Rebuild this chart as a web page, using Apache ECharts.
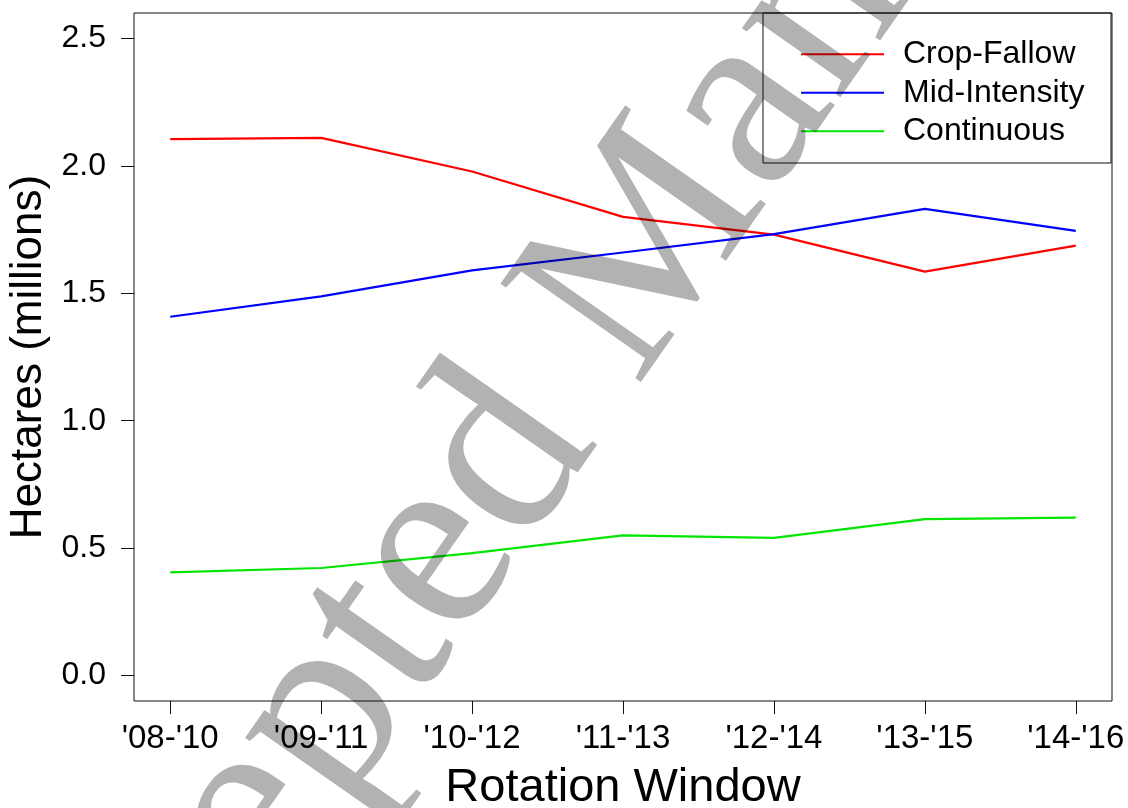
<!DOCTYPE html>
<html>
<head>
<meta charset="utf-8">
<title>Rotation Window</title>
<script src="https://cdn.jsdelivr.net/npm/echarts@6/dist/echarts.min.js"></script>
<style>
  html, body { margin: 0; padding: 0; background: #fff; }
  #main { width: 1128px; height: 808px; }
</style>
</head>
<body>
<div id="main"></div>
<script type="text/javascript">
// data
var windows = ["'08-'10", "'09-'11", "'10-'12", "'11-'13", "'12-'14", "'13-'15", "'14-'16"];
var cropFallow = [2.105, 2.11, 1.978, 1.80, 1.73, 1.585, 1.687];
var midIntensity = [1.408, 1.488, 1.59, 1.66, 1.732, 1.831, 1.745];
var continuous = [0.405, 0.422, 0.48, 0.55, 0.54, 0.614, 0.62];
var yTicks = [0, 0.5, 1, 1.5, 2, 2.5];
var xTicks = [1, 2, 3, 4, 5, 6, 7];

function pairs(vals) {
    return vals.map(function (v, i) { return [i + 1, v]; });
}

var font = '"Liberation Sans", Arial, sans-serif';
var myChart = echarts.init(document.getElementById('main'), null, { renderer: 'canvas' });

var option = {
    backgroundColor: '#fff',
    animation: false,
    grid: {
        left: 134, right: 16, top: 13, bottom: 107,
        outerBoundsMode: 'none',
        containLabel: false,
        show: true, borderColor: '#111', borderWidth: 1
    },
    legend: {
        orient: 'vertical',
        left: 801, top: 35,
        padding: 0,
        icon: 'rect',
        itemWidth: 83, itemHeight: 2.2, itemGap: 0,
        data: ['Crop-Fallow', 'Mid-Intensity', 'Continuous'],
        textStyle: { fontFamily: font, fontSize: 32, lineHeight: 38.5, color: '#000', padding: [0, 0, 0, 14] }
    },
    xAxis: {
        type: 'value',
        min: 0.76, max: 7.24,
        name: 'Rotation Window',
        nameLocation: 'middle',
        nameGap: 64,
        nameTextStyle: { fontFamily: font, fontSize: 47, color: '#000' },
        axisLine: { show: false, onZero: false },
        axisTick: { show: true, customValues: xTicks, length: 13, inside: false, lineStyle: { color: '#111' } },
        axisLabel: {
            customValues: xTicks,
            margin: 21,
            fontFamily: font, fontSize: 33, color: '#000',
            formatter: function (v) { return windows[Math.round(v) - 1]; }
        },
        splitLine: { show: false }
    },
    yAxis: {
        type: 'value',
        min: -0.1, max: 2.6,
        name: 'Hectares (millions)',
        nameLocation: 'middle',
        nameGap: 76,
        nameTextStyle: { fontFamily: font, fontSize: 44, color: '#000' },
        axisLine: { show: false, onZero: false },
        axisTick: { show: true, customValues: yTicks, length: 13, lineStyle: { color: '#111' } },
        axisLabel: {
            customValues: yTicks,
            margin: 28,
            fontFamily: font, fontSize: 32, color: '#000',
            formatter: function (v) { return v.toFixed(1); }
        },
        splitLine: { show: false }
    },
    series: [
        {
            name: 'Crop-Fallow', type: 'line', symbol: 'none',
            itemStyle: { color: '#ff0000' },
            lineStyle: { color: '#ff0000', width: 2.2 },
            data: pairs(cropFallow)
        },
        {
            name: 'Mid-Intensity', type: 'line', symbol: 'none',
            itemStyle: { color: '#0000ff' },
            lineStyle: { color: '#0000ff', width: 2.2 },
            data: pairs(midIntensity)
        },
        {
            name: 'Continuous', type: 'line', symbol: 'none',
            itemStyle: { color: '#00e600' },
            lineStyle: { color: '#00e600', width: 2.2 },
            data: pairs(continuous)
        }
    ],
    graphic: [
        {
            // legend frame
            type: 'rect',
            shape: { x: 763, y: 13, width: 348, height: 150 },
            style: { fill: 'none', stroke: '#111', lineWidth: 1 },
            z: 10
        },
        {
            // watermark
            type: 'text',
            x: 620, y: 292,
            rotation: 55 * Math.PI / 180,
            style: {
                text: 'Accepted Manuscript',
                font: '262px "Liberation Serif", "Times New Roman", serif',
                fill: 'rgba(0,0,0,0.3)',
                align: 'center',
                verticalAlign: 'middle'
            },
            z: 100
        }
    ]
};

myChart.setOption(option);
</script>
</body>
</html>
